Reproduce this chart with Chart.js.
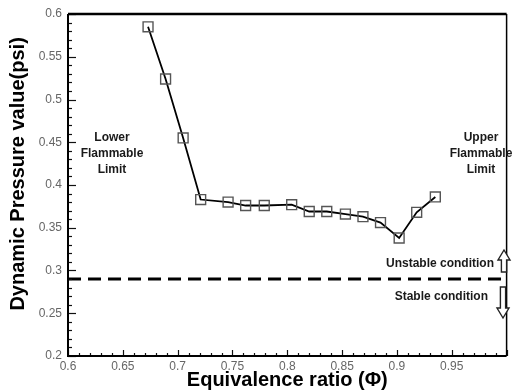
<!DOCTYPE html>
<html lang="en">
<head>
  <meta charset="UTF-8">
  <title>Dynamic Pressure vs Equivalence Ratio</title>
  <script src="https://cdn.jsdelivr.net/npm/chart.js"></script>
  <style>
    html, body { margin: 0; padding: 0; background: #fff; }
    canvas { display: block; }
  </style>
</head>
<body>
  <canvas id="pressureChart" width="515" height="391"></canvas>
  <script>
    const phi = [0.673, 0.689, 0.705, 0.721, 0.746, 0.762, 0.779, 0.804, 0.820, 0.836, 0.853, 0.869, 0.885, 0.902, 0.918, 0.935];
    const pressure = [0.585, 0.524, 0.455, 0.383, 0.380, 0.376, 0.376, 0.377, 0.369, 0.369, 0.366, 0.363, 0.356, 0.338, 0.368, 0.386];

    // stability limit (dashed line)
    const limitPhi = [0.6, 1.0];
    const limitPressure = [0.29, 0.29];

    const xTicks = [0.6, 0.65, 0.7, 0.75, 0.8, 0.85, 0.9, 0.95];
    const yTicks = [0.2, 0.25, 0.3, 0.35, 0.4, 0.45, 0.5, 0.55, 0.6];

    const labelFont = 'bold 12px "Liberation Sans", Arial, sans-serif';

    // hollow arrow, dir = -1 up, +1 down
    function arrow(ctx, x, yStart, yTip, dir) {
      const headLen = 10, headW = 6, shaftW = 2.6;
      const yBase = yTip - dir * headLen;
      ctx.beginPath();
      ctx.moveTo(x - shaftW, yStart);
      ctx.lineTo(x - shaftW, yBase);
      ctx.lineTo(x - headW, yBase);
      ctx.lineTo(x, yTip);
      ctx.lineTo(x + headW, yBase);
      ctx.lineTo(x + shaftW, yBase);
      ctx.lineTo(x + shaftW, yStart);
      ctx.closePath();
      ctx.fillStyle = '#fff';
      ctx.fill();
      ctx.lineWidth = 1.4;
      ctx.strokeStyle = '#222';
      ctx.stroke();
    }

    const framePlugin = {
      id: 'frame',
      afterDatasetsDraw(chart) {
        const ctx = chart.ctx;
        const a = chart.chartArea;
        const xs = chart.scales.x, ys = chart.scales.y;
        ctx.save();

        // inward ticks on left and bottom axes
        ctx.strokeStyle = '#111';
        ctx.lineWidth = 1.2;
        for (let i = 0; i <= 40; i++) {
          const v = 0.6 + i * 0.01;
          const px = Math.round(xs.getPixelForValue(v)) + 0.5;
          const len = i % 5 === 0 ? 6 : 3;
          ctx.beginPath();
          ctx.moveTo(px, a.bottom);
          ctx.lineTo(px, a.bottom - len);
          ctx.stroke();
        }
        for (let i = 0; i <= 40; i++) {
          const v = 0.2 + i * 0.01;
          const py = Math.round(ys.getPixelForValue(v)) + 0.5;
          const len = i % 5 === 0 ? 8 : 4;
          ctx.beginPath();
          ctx.moveTo(a.left, py);
          ctx.lineTo(a.left + len, py);
          ctx.stroke();
        }

        // frame
        ctx.strokeStyle = '#000';
        ctx.lineWidth = 2.5;
        ctx.beginPath();
        ctx.moveTo(a.left, a.top);
        ctx.lineTo(a.right, a.top);
        ctx.stroke();
        ctx.lineWidth = 2;
        ctx.beginPath();
        ctx.moveTo(a.left, a.top);
        ctx.lineTo(a.left, a.bottom);
        ctx.lineTo(a.right, a.bottom);
        ctx.stroke();
        ctx.lineWidth = 1.5;
        ctx.beginPath();
        ctx.moveTo(a.right, a.top);
        ctx.lineTo(a.right, a.bottom);
        ctx.stroke();

        // annotations
        ctx.fillStyle = '#1a1a1a';
        ctx.font = labelFont;
        ctx.textAlign = 'center';
        ctx.textBaseline = 'middle';
        ['Lower', 'Flammable', 'Limit'].forEach((t, i) => ctx.fillText(t, 112, 138 + i * 16));
        ['Upper', 'Flammable', 'Limit'].forEach((t, i) => ctx.fillText(t, 481, 138 + i * 16));

        ctx.textAlign = 'right';
        ctx.fillText('Unstable condition', 494, 264);
        ctx.fillText('Stable condition', 488, 297);

        arrow(ctx, 504, 272, 250, -1);
        arrow(ctx, 503, 287, 318, 1);

        ctx.restore();
      }
    };

    const ctx = document.getElementById('pressureChart').getContext('2d');
    const pressureChart = new Chart(ctx, {
      type: 'scatter',
      data: {
        datasets: [{
          label: 'Dynamic pressure',
          data: phi.map((x, i) => ({ x: x, y: pressure[i] })),
          showLine: true,
          borderColor: '#000',
          borderWidth: 1.8,
          tension: 0,
          pointStyle: 'rect',
          pointRadius: 7,
          pointBorderWidth: 1.4,
          pointBorderColor: '#555',
          pointBackgroundColor: 'rgba(255,255,255,0)'
        }, {
          label: 'Stability limit',
          data: limitPhi.map((x, i) => ({ x: x, y: limitPressure[i] })),
          showLine: true,
          borderColor: '#000',
          borderWidth: 3,
          borderDash: [13, 7],
          pointRadius: 0
        }]
      },
      options: {
        responsive: false,
        animation: false,
        devicePixelRatio: 1,
        layout: { padding: { top: 14, right: 2, left: 0, bottom: 0 } },
        plugins: {
          legend: { display: false },
          tooltip: { enabled: false }
        },
        scales: {
          x: {
            type: 'linear',
            min: 0.6,
            max: 1.0,
            afterBuildTicks: s => { s.ticks = xTicks.map(v => ({ value: v })); },
            afterFit: s => { s.height = 35; },
            grid: { display: false, drawTicks: false },
            border: { display: false },
            ticks: {
              padding: 3,
              color: '#666',
              font: { family: '"Liberation Sans", Arial, sans-serif', size: 12 },
              callback: v => String(+v.toFixed(2))
            },
            title: {
              display: true,
              text: 'Equivalence ratio (Φ)',
              color: '#000',
              font: { family: '"Liberation Sans", Arial, sans-serif', size: 20, weight: 'bold' },
              padding: { top: 0, bottom: -1 }
            }
          },
          y: {
            min: 0.2,
            max: 0.6,
            afterBuildTicks: s => { s.ticks = yTicks.map(v => ({ value: v })); },
            afterFit: s => { s.width = 68; },
            grid: { display: false, drawTicks: false },
            border: { display: false },
            ticks: {
              padding: 6,
              color: '#666',
              font: { family: '"Liberation Sans", Arial, sans-serif', size: 12 },
              callback: v => String(+v.toFixed(2))
            },
            title: {
              display: true,
              // leading spaces nudge the rotated title upward a little
              text: '    Dynamic Pressure value(psi)',
              color: '#000',
              font: { family: '"Liberation Sans", Arial, sans-serif', size: 20, weight: 'bold' },
              padding: { top: 6, bottom: 0 }
            }
          }
        }
      },
      plugins: [framePlugin]
    });
  </script>
</body>
</html>
